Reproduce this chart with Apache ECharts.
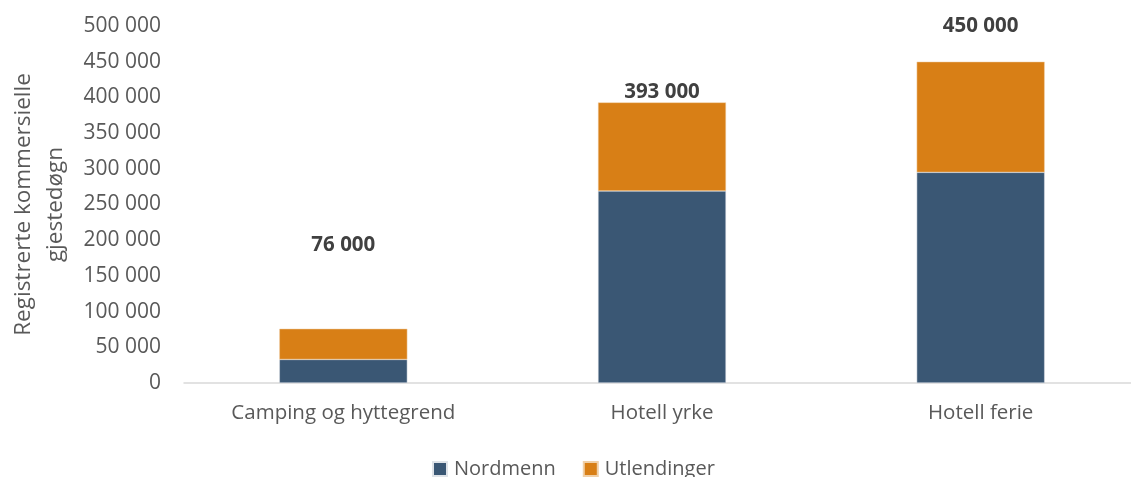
<!DOCTYPE html>
<html><head><meta charset="utf-8">
<script src="https://cdn.jsdelivr.net/npm/echarts@6/dist/echarts.min.js"></script>
<style>html,body{margin:0;padding:0;background:#fff;overflow:hidden}#c{width:1142px;height:477px}</style>
</head><body><div id="c"></div>
<script>
const categories = ["Camping og hyttegrend", "Hotell yrke", "Hotell ferie"];
const nordmenn = [33000, 269000, 295000];
const utlendinger = [43000, 124000, 155000];
const totals = [76000, 393000, 450000];
const yTicks = [0, 50000, 100000, 150000, 200000, 250000, 300000, 350000, 400000, 450000, 500000];

const FONT = "Open Sans";
const fmt = v => String(v).replace(/\B(?=(\d{3})+(?!\d))/g, " ");
const labelOffsets = [[0, -72], [0, 1], [0, -24]];

const chart = echarts.init(document.getElementById('c'), null, {renderer: 'canvas'});
chart.setOption({
  animation: false,
  textStyle: {fontFamily: FONT},
  grid: {left: 178, top: 26, width: 962, height: 357, containLabel: false},
  legend: {
    bottom: -7, left: 427, itemWidth: 14, itemHeight: 14, itemGap: 27,
    icon: 'rect',
    textStyle: {fontFamily: FONT, fontSize: 20, color: '#595959', padding: [0, 0, 0, 2]},
    data: ['Nordmenn', 'Utlendinger']
  },
  xAxis: {
    type: 'category', data: categories,
    axisLine: {lineStyle: {color: '#d9d9d9', width: 1.5}},
    axisTick: {show: false},
    axisLabel: {fontFamily: FONT, fontSize: 20.5, color: '#595959', margin: 20}
  },
  yAxis: {
    type: 'value', min: yTicks[0], max: yTicks[yTicks.length - 1], interval: yTicks[1] - yTicks[0],
    name: 'Registrerte kommersielle\ngjestedøgn', nameLocation: 'middle', nameRotate: 90, nameGap: 112,
    nameTextStyle: {fontFamily: FONT, fontSize: 22.5, color: '#595959', lineHeight: 32},
    axisLine: {show: false}, axisTick: {show: false}, splitLine: {show: false},
    axisLabel: {fontFamily: FONT, fontSize: 21, color: '#595959', margin: 23, formatter: fmt}
  },
  series: [
    {
      name: 'Nordmenn', type: 'bar', stack: 'a', barWidth: 128, data: nordmenn,
      itemStyle: {color: '#3a5774', borderColor: '#dfe3e8', borderWidth: 0.5}
    },
    {
      name: 'Utlendinger', type: 'bar', stack: 'a', barWidth: 128,
      data: utlendinger.map((v, i) => ({value: v, label: {offset: labelOffsets[i]}})),
      itemStyle: {color: '#d87f16', borderColor: '#f0d0a8', borderWidth: 0.5},
      label: {
        show: true, position: 'top', distance: 1,
        fontFamily: FONT, fontSize: 20.5, fontWeight: 'bold', color: '#404040',
        formatter: p => fmt(totals[p.dataIndex])
      }
    }
  ]
});
</script></body></html>
